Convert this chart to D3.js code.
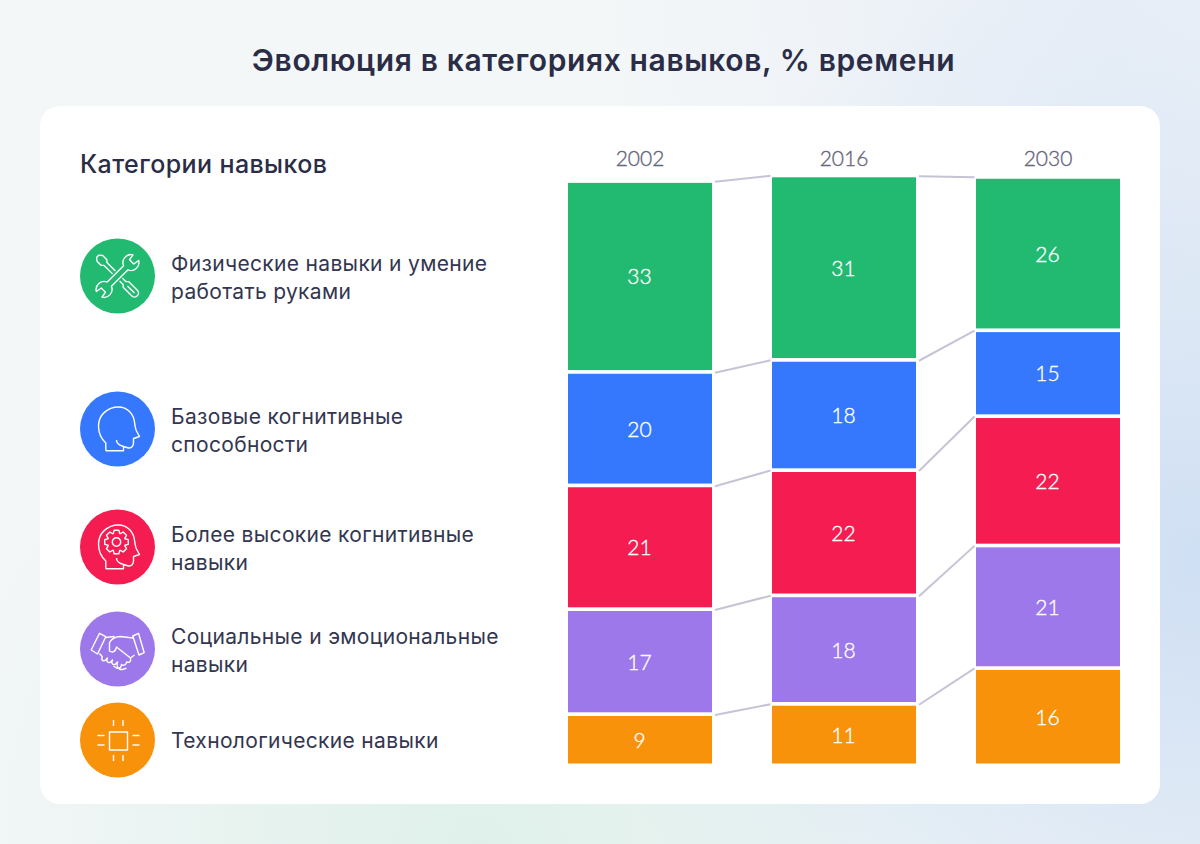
<!DOCTYPE html>
<html>
<head>
  <meta http-equiv="Content-Type" content="text/html; charset=UTF-8" />
  <title>Эволюция в категориях навыков</title>
  <style>
    body { padding: 0; margin: 0; background: #fff; }
    svg { display: block; }
    text { font-family: Inter, "Noto Sans", sans-serif; }
  </style>
</head>
<body>
<svg width="1200" height="844" xmlns="http://www.w3.org/2000/svg"></svg>
<script src="https://d3js.org/d3.v7.min.js"></script>
<script>

// data, bottom of the stack last
var years = ["2002", "2016", "2030"]
var keys = ["physical", "basic", "higher", "social", "tech"]
var colors = ["#22b971", "#3578fe", "#f41c50", "#9d78ea", "#f8920a"]
var categoryLabels = [
  ["Физические навыки и умение", "работать руками"],
  ["Базовые когнитивные", "способности"],
  ["Более высокие когнитивные", "навыки"],
  ["Социальные и эмоциональные", "навыки"],
  ["Технологические навыки"]
]

// printed numbers
var labels2002 = [33, 20, 21, 17, 9]
var labels2016 = [31, 18, 22, 18, 11]
var labels2030 = [26, 15, 22, 21, 16]

// heights as drawn in the picture, they do not follow the printed numbers exactly
var drawn2002 = [32.55, 19.35, 21.1, 17.9, 8.1]
var drawn2016 = [31.45, 18.8, 21.35, 18.5, 9.85]
var drawn2030 = [26.15, 14.65, 22.05, 20.9, 15.95]

var labelsByYear = [labels2002, labels2016, labels2030]
var drawnByYear = [drawn2002, drawn2016, drawn2030]

var svg = d3.select("svg")
var defs = svg.append("defs")

function radial(id, cx, cy, r, color) {
  var g = defs.append("radialGradient").attr("id", id)
    .attr("gradientUnits", "userSpaceOnUse")
    .attr("cx", cx).attr("cy", cy).attr("r", r)
  g.append("stop").attr("offset", 0).attr("stop-color", color).attr("stop-opacity", 1)
  g.append("stop").attr("offset", 1).attr("stop-color", color).attr("stop-opacity", 0)
}
radial("bgBlue", 1200, 560, 620, "#cfdff3")
radial("bgGreen", 480, 844, 560, "#dff0ea")
radial("bgBlueTop", 1100, 0, 500, "#e8eef7")

svg.append("rect").attr("width", 1200).attr("height", 844).attr("fill", "#f4f7f8")
;["bgGreen", "bgBlueTop", "bgBlue"].forEach(function(id) {
  svg.append("rect").attr("width", 1200).attr("height", 844).attr("fill", "url(#" + id + ")")
})

svg.append("rect")
  .attr("x", 40).attr("y", 106)
  .attr("width", 1120).attr("height", 698)
  .attr("rx", 20)
  .attr("fill", "#fff")

svg.append("text")
  .attr("x", 603.5).attr("y", 71)
  .attr("text-anchor", "middle")
  .attr("fill", "#2a2d45")
  .style("font-size", "30px").style("font-weight", 600)
  .style("letter-spacing", "0.62px")
  .text("Эволюция в категориях навыков, % времени")

svg.append("text")
  .attr("x", 80).attr("y", 173)
  .attr("fill", "#2a2d45")
  .style("font-size", "25px").style("font-weight", 550)
  .style("letter-spacing", "0.4px")
  .text("Категории навыков")

// stacked columns
var table = years.map(function(year, i) {
  var row = { year: year }
  keys.forEach(function(k, j) { row[k] = drawnByYear[i][j] })
  return row
})

var stack = d3.stack().keys(keys.slice().reverse())
var series = stack(table)

var x = d3.scalePoint().domain(years).range([640, 1048])
var barWidth = 144
var y = d3.scaleLinear().domain([0, 100]).range([763.5, 177])
var gap = 3.7

var color = d3.scaleOrdinal().domain(keys).range(colors)

// connector lines run between the tops of the same category in neighbouring years
var linkGroup = svg.append("g")
years.slice(1).forEach(function(year, i) {
  series.forEach(function(s) {
    linkGroup.append("line")
      .attr("x1", x(years[i]) + barWidth / 2 + 3)
      .attr("x2", x(year) - barWidth / 2 - 1.5)
      .attr("y1", y(s[i][1]) - 1)
      .attr("y2", y(s[i + 1][1]) - 1.5)
      .attr("stroke", "#c4c4d6")
      .attr("stroke-width", 2)
  })
})

series.forEach(function(s) {
  var g = svg.append("g")
  var keyIndex = keys.indexOf(s.key)

  g.selectAll("rect")
    .data(s)
    .enter()
    .append("rect")
    .attr("x", function(d) { return x(d.data.year) - barWidth / 2 })
    .attr("width", barWidth)
    .attr("y", function(d) { return y(d[1]) })
    .attr("height", function(d) { return y(d[0]) - y(d[1]) - (d[0] > 0 ? gap : 0) })
    .attr("fill", color(s.key))

  g.selectAll("text")
    .data(s)
    .enter()
    .append("text")
    .attr("x", function(d) { return x(d.data.year) - 0.5 })
    .attr("y", function(d) { return (y(d[1]) + y(d[0]) - (d[0] > 0 ? gap : 0)) / 2 + 8 })
    .attr("text-anchor", "middle")
    .attr("fill", "#fff")
    .attr("stroke", "#fff")
    .attr("stroke-width", 0.35)
    .style("font-family", "Lato")
    .style("font-weight", 300)
    .style("font-size", "21px")
    .text(function(d, i) { return labelsByYear[i][keyIndex] })
})

svg.selectAll("text.year")
  .data(years)
  .enter()
  .append("text")
  .attr("class", "year")
  .attr("x", function(d) { return x(d) })
  .attr("y", 166)
  .attr("text-anchor", "middle")
  .attr("fill", "#66667c")
  .attr("stroke", "#66667c")
  .attr("stroke-width", 0.35)
  .style("font-family", "Lato")
  .style("font-weight", 300)
  .style("font-size", "21px")
  .text(function(d) { return d })

// legend
var legendY = [276, 429, 547, 649, 740]

var headPath = "M-11.7 21.7V14C-16 10-19 4-19-3C-19-14-10-22 1-22C10-22 16-15 17-7C17.5-3 18 0 19 2L22 7.5L16 9.5V14C16 17 14 19.5 11 19L6 17.5C2 16.5-1 14-1 11M6 17.5V21.7H-11.7"

function gearPath(r1, r2, teeth) {
  var pts = []
  d3.range(teeth).forEach(function(i) {
    var a = i / teeth * 2 * Math.PI
    var w = Math.PI / teeth
    ;[[r2, -w * 0.95], [r1, -w * 0.5], [r1, w * 0.5], [r2, w * 0.95]].forEach(function(p) {
      pts.push([p[0] * Math.cos(a + p[1]), p[0] * Math.sin(a + p[1])])
    })
  })
  return d3.line().curve(d3.curveLinearClosed)(pts)
}

var icons = [
  function(g) {
    // wrench
    g.append("path").attr("transform", "rotate(-45)")
      .attr("d", "M-11.6-3H11.6A8 8 0 0 1 25.9-4L20-3V3L25.9 4A8 8 0 0 1 11.6 3H-11.6A8 8 0 0 1-25.9 4L-20 3V-3L-25.9-4A8 8 0 0 1-11.6-3Z")
    // screwdriver
    var sd = g.append("g").attr("transform", "rotate(45)")
    sd.append("path").attr("d", "M-5-2H-17L-19-4H-25L-28-1.5V1.5L-25 4H-19L-17 2H-5")
    sd.append("path").attr("d", "M5-2H10L12-4H24A4 4 0 0 1 24 4H12L10 2H5M14 0H24")
  },
  function(g) {
    g.append("path").attr("d", headPath)
  },
  function(g) {
    g.append("path").attr("d", headPath)
    var gear = g.append("g").attr("transform", "translate(-1,-5)")
    gear.append("path").attr("d", gearPath(12, 9, 8))
    gear.append("circle").attr("r", 4.2)
  },
  function(g) {
    // cuffs
    g.append("path").attr("d", "M-18-15.7L-11.7-12.3L-20 5L-26.3 1Z")
    g.append("path").attr("d", "M21-15.7L26.7 3.7L21.5 6L15.3-13Z")
    // hands
    g.append("path").attr("d", "M15.5-11L3-12.5C-2-12.5-6-10-8-6.5V2C-5 4-2 3-1-2L13 9")
    g.append("path").attr("d", "M17 6L13 9C14 13 11 14 9 13C9 16 6 17 4 15.5C4 19 1 20-1 19L-4 17")
    g.append("path").attr("d", "M-12-11.5L-3-12.5M-18 4.5L-15 8M-15 8C-17 11-14 13-12 11L-10 9C-12 12-9 15-7 13L-5 11C-7 14-4 17-2 15L0 13C-1 16 0 19 2 20C4 21 8 20 9 19")
  },
  function(g) {
    g.append("rect").attr("x", -8).attr("y", -8).attr("width", 18).attr("height", 18)
    var pinA = [-4, 5.5]
    pinA.forEach(function(p) {
      g.append("line").attr("x1", p).attr("x2", p).attr("y1", -20).attr("y2", -14)
      g.append("line").attr("x1", p).attr("x2", p).attr("y1", 15).attr("y2", 21)
      g.append("line").attr("y1", p - 0.5).attr("y2", p - 0.5).attr("x1", -20).attr("x2", -13)
      g.append("line").attr("y1", p - 0.5).attr("y2", p - 0.5).attr("x1", 15).attr("x2", 22)
    })
  }
]

keys.forEach(function(k, i) {
  var row = svg.append("g").attr("transform", "translate(117.5," + legendY[i] + ")")
  row.append("circle").attr("r", 37.5).attr("fill", colors[i])

  var icon = row.append("g")
    .attr("fill", "none")
    .attr("stroke", "#fff")
    .attr("stroke-width", 1.4)
    .attr("stroke-linejoin", "round")
  icons[i](icon)

  var lines = categoryLabels[i]
  var firstY = lines.length > 1 ? -5 : 8
  row.selectAll("text.cat")
    .data(lines)
    .enter()
    .append("text")
    .attr("class", "cat")
    .attr("x", 53.5)
    .attr("y", function(d, n) { return firstY + n * 28 })
    .attr("fill", "#33364f")
    .style("font-size", "21px")
    .style("letter-spacing", "0.33px")
    .text(function(d) { return d })
})

</script>
</body>
</html>
